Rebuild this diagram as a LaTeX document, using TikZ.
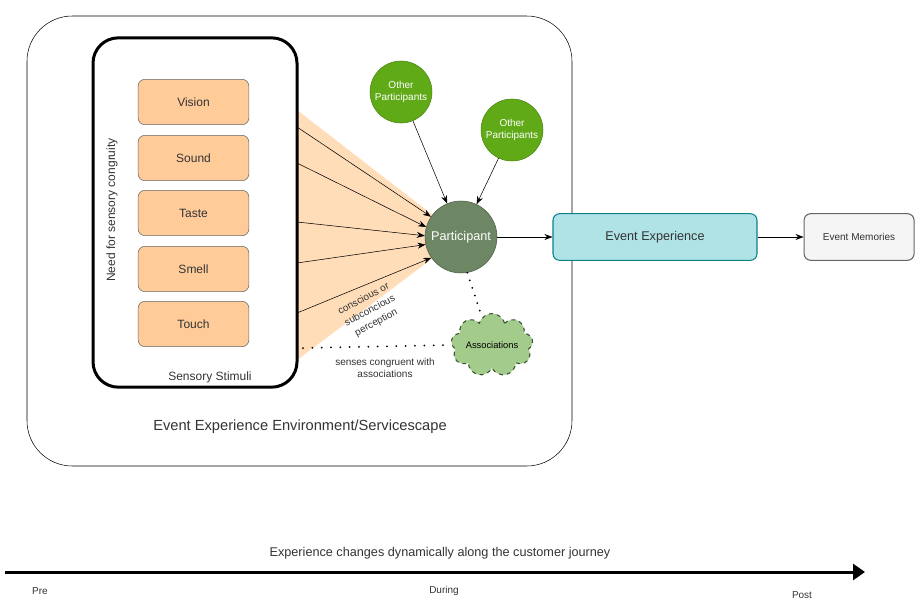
\documentclass[tikz,border=0pt]{standalone}
\usepackage{fontspec}
\setmainfont{Liberation Sans}
\usetikzlibrary{positioning,shapes.symbols,arrows.meta}
\definecolor{sensefill}{HTML}{FFCC99}
\definecolor{fanfill}{HTML}{FFDDB8}
\definecolor{othergreen}{HTML}{60A917}
\definecolor{partgreen}{HTML}{6D8764}
\definecolor{assocfill}{HTML}{A3CB8B}
\definecolor{assocline}{HTML}{3A5431}
\definecolor{expfill}{HTML}{B0E3E6}
\definecolor{expline}{HTML}{0E8088}
\definecolor{memfill}{HTML}{F5F5F5}
\definecolor{memline}{HTML}{666666}
\definecolor{txt}{HTML}{333333}

\begin{document}
\begin{tikzpicture}[x=0.75pt,y=-0.75pt,>={Stealth[length=6pt,width=4.5pt]},
  sensebox/.style={draw=memline,fill=sensefill,rounded corners=5pt,
    minimum width=83pt,minimum height=34pt,text=txt,font=\fontsize{9}{11}\selectfont},
  other/.style={circle,draw=othergreen!80!black,fill=othergreen,text=white,
    minimum size=46.5pt,inner sep=0pt,align=center,font=\fontsize{7.5}{9}\selectfont},
  small/.style={text=txt,align=center,font=\fontsize{7.5}{9}\selectfont}]
\useasboundingbox (0,0) rectangle (921,607);
% environment
\node (env) [draw,rounded corners=34pt,minimum width=408.75pt,minimum height=337.5pt] at (299.5,241) {};
\node (envlabel) [text=txt,font=\fontsize{11}{13}\selectfont] at (300,427) {Event Experience Environment/Servicescape};
% fan of stimuli
\fill[fanfill] (297,110) -- (461,237) -- (297,360) -- cycle;
\node (stim) [draw,line width=2.25pt,rounded corners=19pt,minimum width=153pt,minimum height=262pt] at (195,212.5) {};
\node (stimlabel) [text=txt,font=\fontsize{9}{11}\selectfont] at (210,377) {Sensory Stimuli};
\node (need) [rotate=90,text=txt,font=\fontsize{9}{11}\selectfont] at (112,210) {Need for sensory congruity};
\foreach \s/\y in {Vision/102,Sound/158,Taste/213,Smell/269,Touch/324}
  \node (\s) [sensebox] at (193.5,\y) {\s};
% participants
\node (part) [circle,draw=partgreen!70!black,fill=partgreen,text=white,minimum size=54pt,
  inner sep=0pt,font=\fontsize{9.5}{11}\selectfont] at (461,237) {Participant};
\node (other1) [other] at (401,92) {Other\\Participants};
\node (other2) [other] at (512,130) {Other\\Participants};
\draw[->] (other1) -- (part);
\draw[->] (other2) -- (part);
\foreach \i/\y/\a in {1/127/146,2/163/164,3/222/178,4/263/192,5/313/215}{
  \coordinate (in\i) at (297,\y);
  \draw[->] (in\i) -- (part.\a);}
\node (perc) [small,rotate=28,inner sep=1pt,font=\fontsize{7.5}{10}\selectfont] at (370,311) {conscious or\\subconcious\\perception};
% associations
\node (assoc) [cloud,cloud puffs=9,aspect=1.6,draw=assocline,dashed,thick,fill=assocfill,
  minimum width=59pt,minimum height=37pt,inner sep=0pt,text=black,
  font=\fontsize{7}{8}\selectfont] at (492,345) {Associations};
\coordinate (congr) at (303,348);
\draw[line width=1.5pt,line cap=round,dash pattern=on 0pt off 6pt] (part.280) -- (assoc.110);
\draw[line width=1.5pt,line cap=round,dash pattern=on 0pt off 7pt] (congr) -- (assoc.west);
\node (senses) [small] at (385,368) {senses congruent with\\associations};
% experience
\node (evexp) [draw=expline,thick,fill=expfill,rounded corners=5pt,minimum width=153pt,
  minimum height=35pt,text=txt,font=\fontsize{9.5}{11}\selectfont] at (655,237) {Event Experience};
\node (evmem) [draw=memline,thick,fill=memfill,rounded corners=5pt,minimum width=82.5pt,
  minimum height=35pt,text=txt,font=\fontsize{7.5}{9}\selectfont,right=34.5pt of evexp] {Event Memories};
\draw[->] (part) -- (evexp);
\draw[->] (evexp) -- (evmem);
% journey
\coordinate (start) at (5,572);
\coordinate (end) at (865,572);
\draw[line width=2.25pt,-{Triangle[length=9pt,width=12pt]}] (start) -- (end);
\node (journey) [small,font=\fontsize{9.5}{11}\selectfont] at (440,553) {Experience changes dynamically along the customer journey};
\node (pre) [small] at (40,591) {Pre};
\node (during) [small] at (444,591) {During};
\node (post) [small] at (802,595) {Post};
\end{tikzpicture}
\end{document}
